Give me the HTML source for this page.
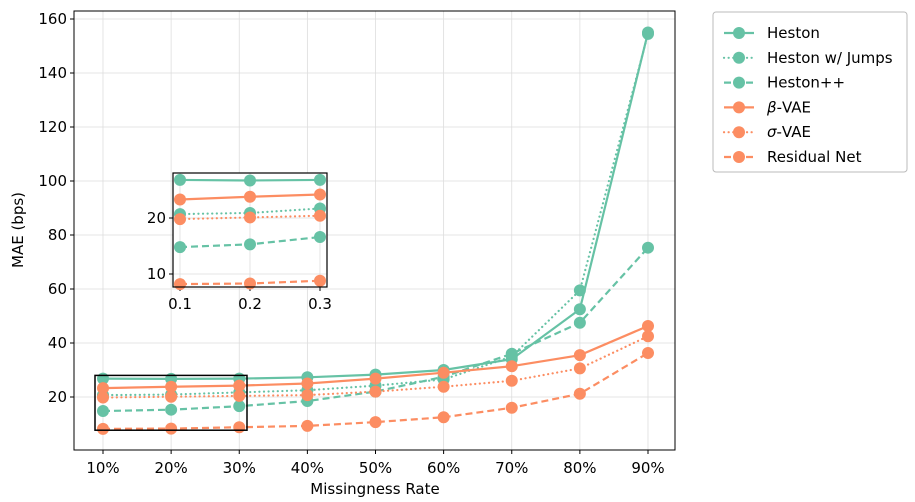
<!DOCTYPE html>
<html><head><meta charset="utf-8"><style>
body{margin:0;background:#fff;font-family:"DejaVu Sans","Liberation Sans",sans-serif}
</style></head><body>
<svg id="c" width="915" height="498" xmlns="http://www.w3.org/2000/svg" font-family="DejaVu Sans, Liberation Sans, sans-serif"></svg>
<script>
const categories=["10%","20%","30%","40%","50%","60%","70%","80%","90%"];
const yTicks=[20,40,60,80,100,120,140,160];
const insetXTicks=["0.1","0.2","0.3"];
const insetYTicks=[10,20];
const heston=[26.8,26.7,26.8,27.3,28.3,30,34,52.5,155];
const hestonJumps=[20.7,20.9,21.7,22.5,24.2,26.5,35,59.5,154.5];
const hestonPP=[14.8,15.3,16.6,18.5,22,27.5,36,47.5,75.3];
const betaVAE=[23.3,23.8,24.2,25,26.8,29,31.4,35.5,46.3];
const sigmaVAE=[19.8,20.1,20.4,20.7,22,23.8,26,30.6,42.5];
const residual=[8.2,8.3,8.8,9.3,10.7,12.5,16,21.2,36.3];
const names=[["","Heston"],["","Heston w/ Jumps"],["","Heston++"],["β","-VAE"],["σ","-VAE"],["","Residual Net"]];
const G="#66c2a5",O="#fc8d62";
const series=[[heston,G,""],[hestonJumps,G,"0.1,4.5"],[hestonPP,G,"7,4"],[betaVAE,O,""],[sigmaVAE,O,"0.1,4.5"],[residual,O,"7,4"]];
const svg=document.getElementById('c');const NS="http://www.w3.org/2000/svg";
function el(t,a,p){const e=document.createElementNS(NS,t);for(const k in a)e.setAttribute(k,a[k]);(p||svg).appendChild(e);return e;}
const L=74,R=675,T=11,B=450;
const x=i=>103+i*(648-103)/8;
const y=v=>451-2.7*v;
const FS=15;
const g=el('g',{});
categories.forEach((c,i)=>{el('line',{x1:x(i),x2:x(i),y1:T,y2:B,stroke:"#ddd","stroke-width":0.8},g);
el('line',{x1:x(i),x2:x(i),y1:B,y2:B+4,stroke:"#000"});
const t=el('text',{x:x(i),y:473,"text-anchor":"middle","font-size":FS});t.textContent=c;});
yTicks.forEach(v=>{el('line',{x1:L,x2:R,y1:y(v),y2:y(v),stroke:"#ddd","stroke-width":0.8},g);
el('line',{x1:L-4,x2:L,y1:y(v),y2:y(v),stroke:"#000"});
const t=el('text',{x:L-7,y:y(v)+5,"text-anchor":"end","font-size":FS});t.textContent=v;});
function drawSeries(xf,yf,idxs,parent,r){series.forEach((s,si)=>{const pts=idxs.map(i=>xf(i)+","+yf(s[0][i])).join(" ");
const pl=el('polyline',{points:pts,fill:"none",stroke:s[1],"stroke-width":2.2,"stroke-dasharray":s[2],"stroke-linecap":s[2].startsWith("0.1")?"round":"butt"},parent);

idxs.forEach(i=>{const c=el('circle',{cx:xf(i),cy:yf(s[0][i]),r:r,fill:s[1]},parent);});});}
drawSeries(x,y,[0,1,2,3,4,5,6,7,8],svg,6);
const zr=el('rect',{x:95,y:y(28),width:152,height:y(7.7)-y(28),fill:"none",stroke:"#000","stroke-width":1.5});

const fr=el('rect',{x:L,y:T,width:R-L,height:B-T,fill:"none",stroke:"#000","stroke-width":1});
let t=el('text',{x:375,y:494,"text-anchor":"middle","font-size":FS});t.textContent="Missingness Rate";
t=el('text',{x:23,y:230,"text-anchor":"middle","font-size":FS,transform:"rotate(-90 23 230)"});t.textContent="MAE (bps)";
const ig=el('g',{});
const iL=173,iR=327,iT=173,iB=287;
const ix=i=>180+i*70;const iy=v=>218-(v-20)*5.6;
el('rect',{x:iL,y:iT,width:iR-iL,height:iB-iT,fill:"#fff"},ig);
insetXTicks.forEach((s,i)=>{el('line',{x1:ix(i),x2:ix(i),y1:iT,y2:iB,stroke:"#ddd","stroke-width":0.8},ig);el('line',{x1:ix(i),x2:ix(i),y1:iB,y2:iB+4,stroke:"#000"},ig);
const tt=el('text',{x:ix(i),y:iB+22,"text-anchor":"middle","font-size":FS},ig);tt.textContent=s;});
insetYTicks.forEach(v=>{el('line',{x1:iL,x2:iR,y1:iy(v),y2:iy(v),stroke:"#ddd","stroke-width":0.8},ig);el('line',{x1:iL-4,x2:iL,y1:iy(v),y2:iy(v),stroke:"#000"},ig);
const tt=el('text',{x:iL-7,y:iy(v)+5,"text-anchor":"end","font-size":FS},ig);tt.textContent=v;});
drawSeries(ix,iy,[0,1,2],ig,6);
el('rect',{x:iL,y:iT,width:iR-iL,height:iB-iT,fill:"none",stroke:"#000","stroke-width":1.2},ig);
const lg=el('g',{});
el('rect',{x:713,y:12,width:194,height:160,rx:3,fill:"#fff",stroke:"#bbb"},lg);
names.forEach((n,i)=>{const yy=33+i*24.8;const s=series[i];
const e=el('g',{},lg);
el('line',{x1:724,x2:754,y1:yy,y2:yy,stroke:s[1],"stroke-width":2.2,"stroke-dasharray":s[2],"stroke-linecap":s[2].startsWith("0.1")?"round":"butt"},e);
el('circle',{cx:739,cy:yy,r:6,fill:s[1]},e);
const tt=el('text',{x:767,y:yy+5,"font-size":FS},e);
if(n[0]){const sp=el('tspan',{"font-style":"italic"},tt);sp.textContent=n[0];}
const sp2=el('tspan',{},tt);sp2.textContent=n[1];});
</script>
</body></html>
